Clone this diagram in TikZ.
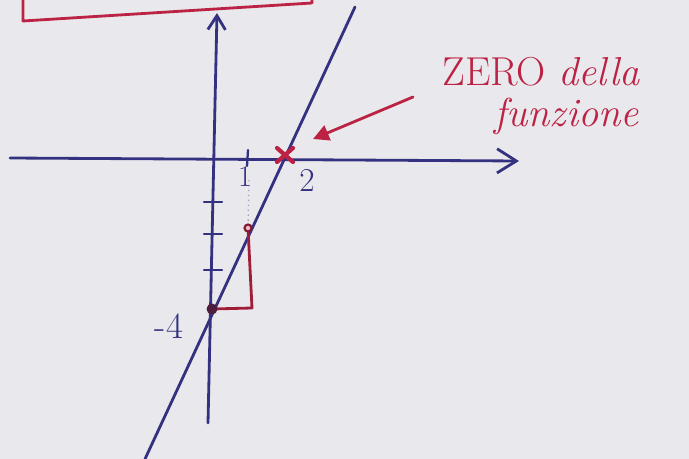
\documentclass[tikz,border=0pt]{standalone}
\usetikzlibrary{positioning, arrows.meta, calc}
\definecolor{cPaper}{RGB}{233,233,237}
\definecolor{cPen} {RGB}{52,50,128}
\definecolor{cRed} {RGB}{188,34,68}
\definecolor{cDot} {RGB}{78,30,62}
\tikzset{
  %% blue pen stroke
  P/.style={line width=1.6pt, color=cPen, line cap=round, line join=round},
  %% red pen stroke
  R/.style={line width=1.6pt, color=cRed, line cap=round, line join=round},
  %% axis with open chevron
  AX/.style={P, -{Straight Barb[length=#1, width=1.25*#1, line width=1.6pt]}},
  %% pointer arrow
  PA/.style={R, -{Triangle[length=9pt, width=9pt]}},
  %% handwritten-ish labels
  LB/.style={text=#1, inner sep=0pt},
}

\begin{document}
\begin{tikzpicture}[x=0.02cm, y=-0.02cm]

%% ════════════════════════════════════════════════
%%  PAPER
%% ════════════════════════════════════════════════
\fill[cPaper] (0,0) rectangle (689,459);
\useasboundingbox (0,0) rectangle (689,459);

%% ════════════════════════════════════════════════
%%  POINTS  (pixel coordinates of the sheet)
%% ════════════════════════════════════════════════
\coordinate (boxA)  at (23,0);
\coordinate (boxB)  at (23,21);
\coordinate (boxC)  at (312,3);
\coordinate (boxD)  at (312,0);

\coordinate (ybot)  at (208,423);
\coordinate (ytop)  at (217,13);
\coordinate (xl)    at (10,158);
\coordinate (xr)    at (519,161);

\coordinate (fbot)  at (145,459);
\coordinate (ftop)  at (355,7);

\coordinate (zero)  at (285,155);
\coordinate (inter) at (212,309);
\coordinate (pt)    at (248,228);
\coordinate (corn)  at (252,308);

\coordinate (arrS)  at (413,97);
\coordinate (arrE)  at (313,139);

%% ════════════════════════════════════════════════
%%  RED BOX (top, cut by the sheet edge)
%% ════════════════════════════════════════════════
\draw[R] (boxA) -- (boxB) -- (boxC) -- (boxD);

%% ════════════════════════════════════════════════
%%  AXES
%% ════════════════════════════════════════════════
\draw[AX=8pt]  (ybot) -- (ytop);
\draw[AX=11pt] (xl) -- (xr);

%% ticks on the y axis
\foreach \y/\n in {202/t1, 234/t2, 270/t3}
  \draw[P, line width=1.3pt] (204,\y) -- (222,\y) coordinate (\n);
%% tick at x = 1
\draw[P, line width=1.3pt] (248,150) -- (247,166) coordinate (tx);
\draw[cPen!45, dotted, line width=0.8pt] (tx) ++(2,14) -- (pt);

%% ════════════════════════════════════════════════
%%  FUNCTION LINE + SLOPE TRIANGLE
%% ════════════════════════════════════════════════
\draw[P] (fbot) -- (ftop);
\draw[R, color=cRed!85!black] (pt) -- (corn) -- (inter);

\fill[cDot] (inter) circle (5.5);
\draw[cRed!70!black, line width=1.2pt, fill=cRed!30] (pt) circle (3.5);

%% zero of the function
\draw[R, line width=2.4pt] ($(zero)+(-8,-7)$) -- ($(zero)+(8,7)$);
\draw[R, line width=2.4pt] ($(zero)+(-8,7)$)  -- ($(zero)+(8,-7)$);

%% ════════════════════════════════════════════════
%%  LABELS
%% ════════════════════════════════════════════════
\node[LB=cPen, font=\fontsize{17}{17}\selectfont] (l1)  at (245,177) {1};
\node[LB=cPen, font=\fontsize{19}{19}\selectfont] (l2)  at (307,180) {2};
\node[LB=cPen, font=\fontsize{21}{21}\selectfont] (lm4) at (169,326) {-4};

\node[LB=cRed, font=\fontsize{23}{23}\selectfont, anchor=west] (zt)
  at (442,72) {ZERO \itshape della};
\node[LB=cRed, font=\fontsize{23}{23}\itshape\selectfont, anchor=west] (ft)
  at (494,116) {funzione};

%% pointer to the zero
\draw[PA] (arrS) -- (arrE);

\end{tikzpicture}
\end{document}
